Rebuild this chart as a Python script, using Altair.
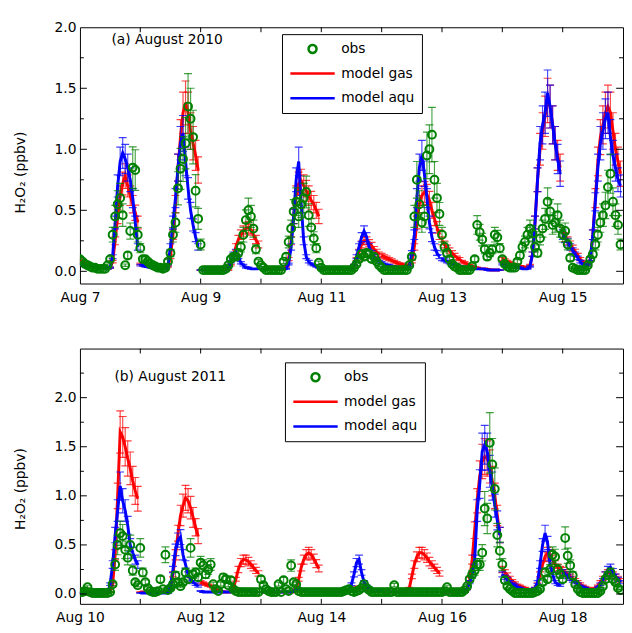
import math
import altair as alt
import pandas as pd

# ---------------- data ----------------
SERIES = ["obs", "model gas", "model aqu"]
COLORS = ["#008000", "#ff0000", "#0000ff"]
OBS_REL_ERR = 0.20
MODEL_REL_ERR = 0.13

PANEL_LABELS = ["(a) August 2010", "(b) August 2011"]
PANEL_START = ["2010-08-07", "2011-08-10"]
N_DAYS = 9
Y_MAX = [2.0, 2.5]
Y_MIN = -0.1
Y_LABELS = [0.0, 0.5, 1.0, 1.5, 2.0]
Y_TITLE = "H\u2082O\u2082 (ppbv)"

# hourly values, one list of 24 per day
obs_2010 = [
    [0.10,0.08,0.06,0.05,0.04,0.03,0.03,0.02,0.02,0.02,0.02,0.05,0.10,0.30,0.45,0.55,0.60,0.46,0.05,0.13,0.33,0.85,0.83,0.30],
    [0.19,0.10,0.10,0.08,0.06,0.05,0.04,0.03,0.03,0.02,0.03,0.08,0.15,0.30,0.40,0.68,0.84,0.92,1.05,1.35,1.25,1.10,0.66,0.43],
    [0.22,0.01,0.01,0.01,0.01,0.01,0.01,0.01,0.01,0.01,0.02,0.05,0.10,0.12,0.12,0.15,0.20,0.30,0.42,0.50,0.45,0.35,0.18,0.08],
    [0.05,0.03,0.01,0.01,0.01,0.01,0.01,0.01,0.01,0.08,0.12,0.24,0.35,0.49,0.57,0.45,0.55,0.60,0.65,0.46,0.36,0.27,0.19,0.07],
    [0.03,0.01,0.01,0.01,0.01,0.01,0.01,0.01,0.01,0.01,0.01,0.01,0.01,0.03,0.06,0.10,0.14,0.12,0.15,0.14,0.10,0.12,0.08,0.05],
    [0.03,0.01,0.01,0.01,0.01,0.01,0.01,0.01,0.01,0.01,0.01,0.05,0.12,0.45,0.75,0.55,0.40,0.45,0.95,1.00,1.12,0.75,0.60,0.47],
    [0.30,0.20,0.15,0.10,0.06,0.04,0.03,0.01,0.01,0.01,0.01,0.01,0.04,0.10,0.38,0.32,0.26,0.18,0.12,0.15,0.18,0.30,0.28,0.19],
    [0.10,0.06,0.04,0.03,0.03,0.03,0.08,0.13,0.20,0.24,0.30,0.35,0.31,0.20,0.15,0.27,0.35,0.43,0.57,0.49,0.38,0.40,0.46,0.35],
    [0.30,0.33,0.22,0.11,0.03,0.02,0.01,0.01,0.01,0.01,0.05,0.10,0.14,0.22,0.30,0.40,0.46,0.54,0.69,0.80,0.57,0.46,0.38,0.22],
]
gas_2010 = [
    [0.09,0.08,0.07,0.06,0.05,0.05,0.04,0.04,0.03,0.03,0.03,0.02,0.03,0.08,0.25,0.45,0.62,0.72,0.78,0.70,0.62,0.55,0.48,0.40],
    [0.06,0.05,0.05,0.04,0.04,0.03,0.03,0.03,0.02,0.02,0.02,0.04,0.12,0.30,0.55,0.85,1.10,1.30,1.38,1.30,1.15,1.05,0.95,0.83],
    [0.01,0.01,0.01,0.01,0.01,0.01,0.01,0.01,0.01,0.01,0.01,0.01,0.05,0.12,0.20,0.26,0.30,0.33,0.35,0.36,0.34,0.30,0.26,0.22],
    [0.02,0.02,0.02,0.02,0.02,0.02,0.02,0.02,0.02,0.02,0.04,0.10,0.25,0.45,0.62,0.72,0.74,0.70,0.66,0.62,0.58,0.55,0.50,0.45],
    [0.02,0.02,0.02,0.02,0.02,0.02,0.02,0.02,0.02,0.02,0.02,0.02,0.02,0.05,0.10,0.16,0.22,0.25,0.25,0.23,0.21,0.18,0.16,0.14],
    [0.13,0.12,0.11,0.10,0.09,0.08,0.07,0.06,0.06,0.05,0.05,0.05,0.08,0.20,0.40,0.55,0.62,0.65,0.63,0.58,0.50,0.43,0.36,0.30],
    [0.25,0.22,0.19,0.17,0.15,0.13,0.11,0.10,0.08,0.07,0.06,0.05,0.04,0.03,0.03,0.02,0.02,0.02,0.02,0.01,0.01,0.01,0.01,0.01],
    [0.10,0.09,0.08,0.07,0.06,0.05,0.05,0.04,0.04,0.03,0.03,0.05,0.14,0.40,0.75,1.00,1.15,1.27,1.40,1.35,1.20,1.05,0.95,0.85],
    [0.32,0.28,0.25,0.22,0.19,0.16,0.13,0.10,0.08,0.06,0.05,0.10,0.30,0.60,0.90,1.10,1.20,1.30,1.35,1.30,1.15,1.00,0.90,0.80],
]
aqu_2010 = [
    [0.06,0.05,0.05,0.04,0.04,0.03,0.03,0.03,0.02,0.02,0.02,0.02,0.03,0.12,0.40,0.70,0.90,0.97,0.92,0.85,0.75,0.60,0.40,0.20],
    [0.05,0.05,0.04,0.04,0.03,0.03,0.03,0.02,0.02,0.02,0.02,0.05,0.20,0.40,0.60,0.85,1.05,1.13,0.90,0.68,0.50,0.38,0.28,0.20],
    [0.01,0.01,0.01,0.01,0.01,0.01,0.01,0.01,0.01,0.01,0.01,0.03,0.08,0.14,0.16,0.12,0.07,0.05,0.03,0.03,0.02,0.02,0.02,0.02],
    [0.02,0.02,0.02,0.02,0.02,0.02,0.02,0.02,0.02,0.02,0.02,0.06,0.20,0.45,0.75,0.90,0.55,0.25,0.12,0.08,0.06,0.05,0.04,0.03],
    [0.02,0.02,0.02,0.02,0.02,0.02,0.02,0.02,0.02,0.02,0.02,0.02,0.02,0.05,0.12,0.20,0.28,0.33,0.28,0.20,0.15,0.12,0.10,0.08],
    [0.07,0.06,0.05,0.05,0.04,0.04,0.03,0.03,0.03,0.03,0.03,0.04,0.15,0.30,0.60,0.85,0.95,0.80,0.60,0.40,0.28,0.20,0.15,0.12],
    [0.10,0.09,0.08,0.07,0.06,0.05,0.05,0.04,0.04,0.03,0.03,0.03,0.02,0.02,0.02,0.02,0.02,0.02,0.01,0.01,0.01,0.01,0.01,0.01],
    [0.06,0.05,0.05,0.04,0.04,0.03,0.03,0.03,0.02,0.02,0.02,0.04,0.14,0.40,0.75,1.05,1.20,1.30,1.46,1.35,1.20,1.05,0.92,0.80],
    [0.30,0.27,0.24,0.20,0.17,0.14,0.11,0.08,0.06,0.05,0.05,0.10,0.30,0.57,0.85,1.05,1.15,1.25,1.30,1.10,0.95,0.85,0.75,0.70],
]
obs_2011 = [
    [0.02,0.02,0.03,0.07,0.02,0.01,0.01,0.01,0.01,0.01,0.01,0.01,0.02,0.10,0.30,0.50,0.62,0.59,0.45,0.37,0.50,0.24,0.12,0.09],
    [0.47,0.22,0.12,0.06,0.03,0.02,0.02,0.03,0.15,0.05,0.40,0.04,0.06,0.10,0.19,0.12,0.08,0.12,0.22,0.15,0.47,0.20,0.22,0.17],
    [0.32,0.29,0.20,0.25,0.30,0.10,0.05,0.03,0.10,0.17,0.15,0.09,0.14,0.05,0.03,0.02,0.02,0.02,0.02,0.02,0.02,0.02,0.02,0.02],
    [0.15,0.09,0.05,0.03,0.02,0.02,0.02,0.10,0.02,0.14,0.05,0.03,0.29,0.12,0.10,0.03,0.02,0.02,0.02,0.02,0.02,0.02,0.02,0.02],
    [0.02,0.02,0.02,0.02,0.02,0.02,0.02,0.02,0.02,0.03,0.04,0.05,0.03,0.02,0.03,0.04,0.06,0.10,0.06,0.04,0.02,0.02,0.02,0.02],
    [0.02,0.02,0.02,0.02,0.02,0.09,0.02,0.02,0.02,0.02,0.02,0.02,0.02,0.02,0.02,0.02,0.02,0.02,0.02,0.02,0.02,0.02,0.02,0.02],
    [0.02,0.03,0.07,0.02,0.02,0.02,0.02,0.02,0.02,0.04,0.08,0.15,0.20,0.24,0.30,0.30,0.42,0.87,0.77,1.54,1.32,1.07,0.60,0.44],
    [0.30,0.14,0.08,0.05,0.03,0.01,0.01,0.01,0.01,0.01,0.01,0.01,0.01,0.02,0.03,0.05,0.12,0.22,0.15,0.25,0.40,0.38,0.25,0.20],
    [0.15,0.57,0.39,0.29,0.19,0.10,0.05,0.02,0.01,0.01,0.01,0.01,0.01,0.01,0.01,0.03,0.08,0.15,0.19,0.22,0.15,0.12,0.06,0.04],
]
gas_2011 = [
    [0.01,0.01,0.01,0.01,0.01,0.01,0.01,0.01,0.01,0.01,0.01,0.01,0.02,0.10,0.40,1.00,1.65,1.60,1.50,1.38,1.28,1.15,1.05,0.97],
    [0.02,0.02,0.02,0.02,0.02,0.02,0.02,0.02,0.02,0.02,0.02,0.02,0.05,0.20,0.40,0.62,0.80,0.90,0.98,0.95,0.88,0.78,0.68,0.59],
    [0.12,0.11,0.10,0.09,0.08,0.06,0.05,0.04,0.03,0.02,0.02,0.02,0.02,0.05,0.15,0.25,0.32,0.35,0.35,0.33,0.30,0.27,0.24,0.21],
    [0.02,0.02,0.02,0.02,0.02,0.02,0.02,0.02,0.02,0.02,0.02,0.02,0.02,0.02,0.05,0.15,0.27,0.35,0.40,0.42,0.40,0.36,0.31,0.26],
    [0.02,0.02,0.02,0.02,0.02,0.02,0.02,0.02,0.02,0.02,0.02,0.02,0.03,0.05,0.07,0.07,0.07,0.06,0.05,0.04,0.03,0.03,0.02,0.02],
    [0.02,0.02,0.02,0.02,0.02,0.02,0.02,0.02,0.02,0.02,0.02,0.06,0.18,0.30,0.38,0.42,0.42,0.40,0.37,0.33,0.30,0.27,0.24,0.21],
    [0.02,0.02,0.02,0.02,0.02,0.02,0.02,0.02,0.02,0.02,0.05,0.15,0.35,0.65,0.95,1.20,1.35,1.40,1.38,1.30,1.15,1.00,0.80,0.60],
    [0.25,0.22,0.19,0.16,0.13,0.11,0.09,0.08,0.07,0.06,0.05,0.05,0.05,0.06,0.10,0.20,0.30,0.38,0.42,0.40,0.35,0.30,0.27,0.25],
    [0.24,0.22,0.20,0.18,0.16,0.14,0.12,0.10,0.08,0.07,0.06,0.05,0.05,0.06,0.08,0.12,0.16,0.20,0.22,0.22,0.20,0.18,0.16,0.14],
]
aqu_2011 = [
    [0.01,0.01,0.01,0.01,0.01,0.01,0.01,0.01,0.01,0.01,0.01,0.01,0.10,0.30,0.60,0.85,1.10,0.95,0.85,0.70,0.50,0.42,0.35,0.30],
    [0.01,0.01,0.01,0.01,0.01,0.01,0.01,0.01,0.01,0.01,0.01,0.01,0.08,0.25,0.45,0.55,0.58,0.40,0.30,0.20,0.15,0.12,0.10,0.08],
    [0.03,0.02,0.02,0.02,0.02,0.02,0.02,0.02,0.02,0.02,0.02,0.02,0.02,0.02,0.03,0.04,0.05,0.05,0.04,0.03,0.02,0.02,0.02,0.02],
    [0.02,0.02,0.02,0.02,0.02,0.02,0.02,0.02,0.02,0.02,0.02,0.02,0.02,0.03,0.04,0.05,0.04,0.03,0.02,0.02,0.02,0.02,0.02,0.02],
    [0.02,0.02,0.02,0.02,0.02,0.02,0.02,0.02,0.02,0.02,0.02,0.04,0.10,0.20,0.32,0.35,0.22,0.12,0.08,0.06,0.05,0.04,0.03,0.03],
    [0.02,0.02,0.02,0.02,0.02,0.02,0.02,0.02,0.02,0.02,0.02,0.02,0.02,0.02,0.02,0.02,0.02,0.02,0.02,0.02,0.02,0.02,0.02,0.02],
    [0.02,0.02,0.02,0.02,0.02,0.02,0.02,0.02,0.02,0.02,0.05,0.12,0.20,0.35,0.85,1.12,1.45,1.52,1.45,1.25,1.10,0.90,0.75,0.60],
    [0.20,0.17,0.15,0.12,0.10,0.09,0.07,0.06,0.05,0.05,0.04,0.04,0.04,0.06,0.12,0.30,0.50,0.62,0.52,0.30,0.20,0.12,0.10,0.09],
    [0.22,0.20,0.18,0.16,0.14,0.12,0.10,0.08,0.07,0.06,0.05,0.04,0.04,0.05,0.07,0.10,0.14,0.20,0.25,0.27,0.23,0.18,0.15,0.12],
]

PANEL_DATA = [(obs_2010, gas_2010, aqu_2010), (obs_2011, gas_2011, aqu_2011)]

# ---------------- styling ----------------
FONT = "DejaVu Sans"
W = 551
HEIGHTS = [260, 259]
LEGEND_POS = [(205, 7), (208, 14)]
LABEL_POS = [(32, 13), (35, 29)]
TITLE_Y = [147, 142]

# legend symbol shapes (unit-square paths, scaled by symbol size)
_pts = [(0.18 * math.cos(2 * math.pi * k / 20), 0.18 * math.sin(2 * math.pi * k / 20)) for k in range(20)]
CIRCLE_PATH = "M" + "L".join(f"{x:.3f},{y:.3f}" for x, y in _pts) + "Z"
LINE_PATH = "M-1,0L1,0"


def iso(ts):
    return ts.strftime("%Y-%m-%dT%H:%M:%SZ")


def dt(ts):
    return alt.DateTime(year=ts.year, month=ts.month, date=ts.day, hours=ts.hour, utc=True)


def to_frame(start, days, rel_err):
    t0 = pd.Timestamp(start, tz="UTC")
    rows = []
    for d, vals in enumerate(days):
        for hr, v in enumerate(vals):
            t = t0 + pd.Timedelta(hours=24 * d + hr)
            rows.append({"t": iso(t), "v": v, "lo": v * (1 - rel_err), "hi": v * (1 + rel_err), "day": d})
    return pd.DataFrame(rows)


def panel(i):
    H = HEIGHTS[i]
    t0 = pd.Timestamp(PANEL_START[i], tz="UTC")
    t1 = t0 + pd.Timedelta(days=N_DAYS)
    x_scale = alt.Scale(type="utc", domain=[dt(t0), dt(t1)])
    y_scale = alt.Scale(domain=[Y_MIN, Y_MAX[i]], nice=False, zero=False)
    x_axis = alt.Axis(
        values=[dt(t0 + pd.Timedelta(days=k)) for k in range(0, N_DAYS + 1, 2)],
        format="%b %-d", tickSize=0, domain=False, grid=False, labelPadding=7,
        labelFlush=False, title=None,
    )
    y_axis = alt.Axis(
        values=Y_LABELS, format=".1f", tickSize=0, domain=False, grid=False,
        labelPadding=4, title=Y_TITLE, titleX=-53, titleY=TITLE_Y[i],
        titleFontWeight="normal", titleAngle=-90,
    )

    def X(f):
        return alt.X(f, type="temporal", scale=x_scale, axis=x_axis)

    def Y(f):
        return alt.Y(f, type="quantitative", scale=y_scale, axis=y_axis)

    obs, gas, aqu = PANEL_DATA[i]
    frames = [
        (to_frame(PANEL_START[i], gas, MODEL_REL_ERR), COLORS[1], "line"),
        (to_frame(PANEL_START[i], aqu, MODEL_REL_ERR), COLORS[2], "line"),
        (to_frame(PANEL_START[i], obs, OBS_REL_ERR), COLORS[0], "point"),
    ]
    layers = []
    for df, c, kind in frames:
        base = alt.Chart(df)
        layers.append(base.mark_rule(color=c, opacity=0.7, strokeWidth=1.2, clip=True)
                      .encode(x=X("t"), y=Y("lo"), y2="hi"))
        for f in ("lo", "hi"):
            layers.append(base.mark_tick(color=c, opacity=0.75, orient="horizontal", size=8,
                                         thickness=1.2, clip=True)
                          .encode(x=X("t"), y=Y(f)))
        if kind == "line":
            layers.append(base.mark_line(color=c, strokeWidth=3, clip=True)
                          .encode(x=X("t"), y=Y("v"), detail="day:N"))
        else:
            layers.append(base.mark_point(color=c, filled=False, opacity=1, size=64, strokeWidth=2, clip=True)
                          .encode(x=X("t"), y=Y("v")))

    # inward frame ticks
    xt = pd.DataFrame({"d": [iso(t0 + pd.Timedelta(days=k)) for k in range(1, N_DAYS)]})
    layers.append(alt.Chart(xt).mark_rule(color="black").encode(x=X("d"), y=alt.value(H), y2=alt.value(H - 5)))
    layers.append(alt.Chart(xt).mark_rule(color="black").encode(x=X("d"), y=alt.value(0), y2=alt.value(5)))
    ymax = Y_MAX[i]
    major = pd.DataFrame({"y": [v for v in Y_LABELS if v < ymax]})
    minor = pd.DataFrame({"y": [k * 0.5 + 0.25 for k in range(int(ymax / 0.5)) if k * 0.5 + 0.25 < ymax]})
    for df, ln in ((major, 7), (minor, 4)):
        layers.append(alt.Chart(df).mark_rule(color="black").encode(y=Y("y"), x=alt.value(0), x2=alt.value(ln)))
        layers.append(alt.Chart(df).mark_rule(color="black").encode(y=Y("y"), x=alt.value(W), x2=alt.value(W - ln)))

    # panel label
    lx, ly = LABEL_POS[i]
    layers.append(
        alt.Chart(pd.DataFrame({"label": [PANEL_LABELS[i]]}))
        .mark_text(align="left", baseline="middle", font=FONT, fontSize=14, color="black")
        .encode(x=alt.value(lx), y=alt.value(ly), text="label:N")
    )

    # legend layer (points placed outside the clipped plot area)
    gx, gy = LEGEND_POS[i]
    leg = alt.Legend(
        title=None, orient="none", legendX=gx, legendY=gy, direction="vertical",
        padding=7, strokeColor="black", fillColor="white", symbolSize=2025,
        symbolStrokeWidth=2.5, symbolFillColor="transparent", clipHeight=16,
        rowPadding=9, labelOffset=5, labelFont=FONT, labelFontSize=14, labelColor="black",
    )
    ldf = pd.DataFrame({"series": SERIES, "t": [iso(t0)] * 3, "v": [-5.0] * 3})
    layers.append(
        alt.Chart(ldf).mark_point(filled=False, opacity=1, strokeWidth=2.5, clip=True)
        .encode(
            x=X("t"), y=Y("v"),
            color=alt.Color("series:N", scale=alt.Scale(domain=SERIES, range=COLORS), legend=leg),
            shape=alt.Shape("series:N", scale=alt.Scale(domain=SERIES, range=[CIRCLE_PATH, LINE_PATH, LINE_PATH]), legend=leg),
        )
    )
    return alt.layer(*layers).properties(width=W, height=H)


chart = (
    alt.vconcat(panel(0), panel(1), spacing=43)
    .resolve_scale(x="independent", y="independent", color="independent", shape="independent")
    .resolve_legend(color="independent", shape="independent")
    .properties(padding={"left": 5, "top": 7, "right": 0, "bottom": 0})
    .configure_view(stroke="black", strokeWidth=1)
    .configure_axis(labelFont=FONT, labelFontSize=14, labelColor="black",
                    titleFont=FONT, titleFontSize=14, titleColor="black")
)

chart.save("out.html", embed_options={"renderer": "svg", "actions": False})
